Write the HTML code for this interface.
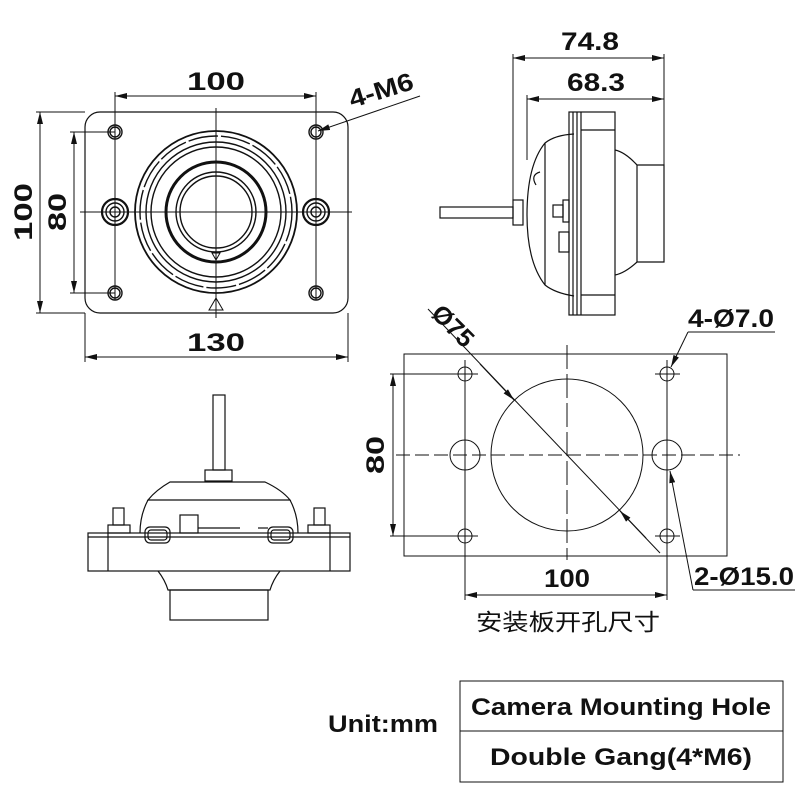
<!DOCTYPE html>
<html><head><meta charset="utf-8"><style>
html,body{margin:0;padding:0;background:#fff;}
svg{display:block;}
text{font-family:"Liberation Sans","Noto Sans CJK SC",sans-serif;fill:#111;}
</style></head><body>
<svg width="800" height="800" viewBox="0 0 800 800" xmlns="http://www.w3.org/2000/svg">
<defs>
<marker id="a" viewBox="0 0 12 6" refX="12" refY="3" markerWidth="12" markerHeight="6" orient="auto-start-reverse" markerUnits="userSpaceOnUse"><path d="M0,0 L12,3 L0,6 z" fill="#111"/></marker>
</defs>
<g fill="none" stroke="#111" stroke-width="1">
<!-- FRONT VIEW -->
<rect x="85" y="112" width="263" height="201" rx="15" stroke-width="1.2"/>
<line x1="216" y1="108" x2="216" y2="318"/>
<line x1="80" y1="212" x2="352" y2="212"/>
<line x1="115" y1="92" x2="115" y2="300"/>
<line x1="316" y1="92" x2="316" y2="300"/>
<line x1="115" y1="96" x2="316" y2="96" marker-start="url(#a)" marker-end="url(#a)"/>
<line x1="36" y1="112" x2="85" y2="112"/><line x1="36" y1="313" x2="85" y2="313"/>
<line x1="40" y1="112" x2="40" y2="313" marker-start="url(#a)" marker-end="url(#a)"/>
<line x1="70" y1="132" x2="115" y2="132"/><line x1="70" y1="293" x2="115" y2="293"/>
<line x1="74" y1="132" x2="74" y2="293" marker-start="url(#a)" marker-end="url(#a)"/>
<line x1="85" y1="313" x2="85" y2="362"/><line x1="348" y1="313" x2="348" y2="362"/>
<line x1="85" y1="357" x2="348" y2="357" marker-start="url(#a)" marker-end="url(#a)"/>
<line x1="420" y1="96" x2="318" y2="131" marker-end="url(#a)"/>
<g stroke-width="1.4">
<circle cx="115" cy="132" r="7"/><circle cx="115" cy="132" r="5"/>
<circle cx="316" cy="132" r="7"/><circle cx="316" cy="132" r="5"/>
<circle cx="115" cy="293" r="7"/><circle cx="115" cy="293" r="5"/>
<circle cx="316" cy="293" r="7"/><circle cx="316" cy="293" r="5"/>
<circle cx="115" cy="212" r="13" stroke-width="2.2"/><circle cx="115" cy="212" r="9"/><circle cx="115" cy="212" r="5"/>
<circle cx="316" cy="212" r="13" stroke-width="2.2"/><circle cx="316" cy="212" r="9"/><circle cx="316" cy="212" r="5"/>
<circle cx="216" cy="212" r="81" stroke-width="1.8"/>
<circle cx="216" cy="212" r="76" stroke-dasharray="30 3"/>
<circle cx="216" cy="212" r="70"/>
<circle cx="216" cy="212" r="65"/>
<circle cx="216" cy="212" r="50" stroke-width="3"/>
<circle cx="216" cy="212" r="40"/>
<circle cx="216" cy="212" r="36"/>
</g>
<path d="M212,253 L220,253 L216,260 z"/>
<path d="M209,310 L223,310 L216,298 z"/>
<!-- SIDE VIEW -->
<line x1="513" y1="54" x2="513" y2="200"/>
<line x1="527" y1="95" x2="527" y2="160"/>
<line x1="664" y1="54" x2="664" y2="262"/>
<line x1="513" y1="58" x2="664" y2="58" marker-start="url(#a)" marker-end="url(#a)"/>
<line x1="527" y1="99" x2="664" y2="99" marker-start="url(#a)" marker-end="url(#a)"/>
<g stroke-width="1.2">
<rect x="569" y="112" width="46" height="203"/>
<line x1="573" y1="112" x2="573" y2="315"/><line x1="577" y1="112" x2="577" y2="315"/><line x1="581" y1="112" x2="581" y2="315"/>
<line x1="581" y1="130" x2="615" y2="130"/><line x1="581" y1="295" x2="615" y2="295"/>
<path d="M615,150 Q625,152 637,165 L664,165 L664,262 L637,262 Q625,273 615,275"/>
<line x1="637" y1="165" x2="637" y2="262"/>
<path d="M574,134 Q555,135 545,143 Q527,165 527,215 Q527,262 545,285 Q555,293 574,296"/>
<line x1="545" y1="143" x2="545" y2="285"/>
<path d="M536,185 Q530,175 540,172"/>
<rect x="553" y="205" width="10" height="12"/><rect x="563" y="200" width="6" height="22"/>
<rect x="559" y="232" width="10" height="20"/>
<rect x="440" y="207" width="73" height="11"/>
<rect x="513" y="200" width="10" height="25"/>
</g>
<!-- BOTTOM VIEW -->
<g stroke-width="1.2">
<rect x="213" y="395" width="12" height="75"/>
<rect x="205" y="470" width="27" height="11"/>
<path d="M170,482 L265,482 Q282,490 290,500 L148,500 Q156,490 170,482 z"/>
<path d="M148,500 Q140,515 140,533 M290,500 Q298,515 298,533"/>
<rect x="88" y="533" width="262" height="38"/>
<line x1="88" y1="537" x2="350" y2="537"/>
<line x1="108" y1="533" x2="108" y2="571"/><line x1="330" y1="533" x2="330" y2="571"/>
<rect x="113" y="508" width="11" height="17"/><rect x="108" y="525" width="22" height="8"/>
<rect x="314" y="508" width="11" height="17"/><rect x="308" y="525" width="22" height="8"/>
<rect x="180" y="515" width="18" height="18"/>
<rect x="145" y="527" width="25" height="16" rx="5"/><rect x="148" y="530" width="19" height="10" rx="3"/>
<rect x="268" y="527" width="25" height="16" rx="5"/><rect x="271" y="530" width="19" height="10" rx="3"/>
<line x1="198" y1="528" x2="240" y2="528"/><line x1="258" y1="528" x2="268" y2="528"/>
<path d="M158,571 Q165,580 168,590 L270,590 Q273,580 280,571"/>
<rect x="170" y="590" width="98" height="30"/>
</g>
<!-- CUTOUT -->
<rect x="404" y="354" width="323" height="202"/>
<circle cx="567" cy="455" r="76"/>
<circle cx="465" cy="374" r="7"/><circle cx="667" cy="374" r="7"/>
<circle cx="465" cy="536" r="7"/><circle cx="667" cy="536" r="7"/>
<circle cx="465" cy="455" r="15"/><circle cx="667" cy="455" r="15"/>
<line x1="396" y1="455" x2="740" y2="455" stroke-dasharray="14 5"/>
<line x1="567" y1="345" x2="567" y2="560" stroke-dasharray="24 5"/>
<line x1="465" y1="360" x2="465" y2="600"/><line x1="667" y1="360" x2="667" y2="600"/>
<line x1="455" y1="374" x2="478" y2="374"/><line x1="655" y1="374" x2="680" y2="374"/>
<line x1="455" y1="536" x2="478" y2="536"/><line x1="655" y1="536" x2="680" y2="536"/>
<line x1="390" y1="374" x2="465" y2="374"/><line x1="390" y1="536" x2="465" y2="536"/>
<line x1="393" y1="374" x2="393" y2="536" marker-start="url(#a)" marker-end="url(#a)"/>
<line x1="465" y1="595" x2="667" y2="595" marker-start="url(#a)" marker-end="url(#a)"/>
<line x1="428" y1="309" x2="646" y2="538"/>
<line x1="480" y1="364" x2="514" y2="400" marker-end="url(#a)"/>
<line x1="660" y1="553" x2="620" y2="511" marker-end="url(#a)"/>
<line x1="775" y1="332" x2="688" y2="332"/>
<line x1="688" y1="332" x2="671" y2="367" marker-end="url(#a)"/>
<line x1="795" y1="590" x2="693" y2="590"/>
<line x1="693" y1="590" x2="670" y2="471" marker-end="url(#a)"/>
<!-- TABLE -->
<rect x="460" y="681" width="323" height="101"/>
<line x1="460" y1="731" x2="783" y2="731"/>
</g>
<g font-size="25" font-weight="bold">
<text x="216" y="90" text-anchor="middle" textLength="58" lengthAdjust="spacingAndGlyphs">100</text>
<text x="216" y="351" text-anchor="middle" textLength="58" lengthAdjust="spacingAndGlyphs">130</text>
<text transform="translate(32,212) rotate(-90)" text-anchor="middle" textLength="58" lengthAdjust="spacingAndGlyphs">100</text>
<text transform="translate(66,212) rotate(-90)" text-anchor="middle" textLength="38" lengthAdjust="spacingAndGlyphs">80</text>
<text transform="translate(352,108) rotate(-17)" textLength="66" lengthAdjust="spacingAndGlyphs">4-M6</text>
<text x="590" y="50" text-anchor="middle" textLength="58" lengthAdjust="spacingAndGlyphs">74.8</text>
<text x="596" y="91" text-anchor="middle" textLength="58" lengthAdjust="spacingAndGlyphs">68.3</text>
<text transform="translate(384,455) rotate(-90)" text-anchor="middle" textLength="38" lengthAdjust="spacingAndGlyphs">80</text>
<text x="567" y="587" text-anchor="middle" textLength="46" lengthAdjust="spacingAndGlyphs">100</text>
<text transform="translate(430,315) rotate(45)" textLength="48" lengthAdjust="spacingAndGlyphs">Ø75</text>
<text x="688" y="327" textLength="86" lengthAdjust="spacingAndGlyphs">4-Ø7.0</text>
<text x="694" y="585" textLength="100" lengthAdjust="spacingAndGlyphs">2-Ø15.0</text>
</g>
<text x="568" y="630" font-size="23" text-anchor="middle" textLength="184" lengthAdjust="spacingAndGlyphs">安装板开孔尺寸</text>
<g font-weight="bold">
<text x="621" y="715" font-size="24" text-anchor="middle" textLength="300" lengthAdjust="spacingAndGlyphs">Camera Mounting Hole</text>
<text x="621" y="765" font-size="24" text-anchor="middle" textLength="262" lengthAdjust="spacingAndGlyphs">Double Gang(4*M6)</text>
<text x="328" y="732" font-size="24" textLength="110" lengthAdjust="spacingAndGlyphs">Unit:mm</text>
</g>
</svg>
</body></html>
